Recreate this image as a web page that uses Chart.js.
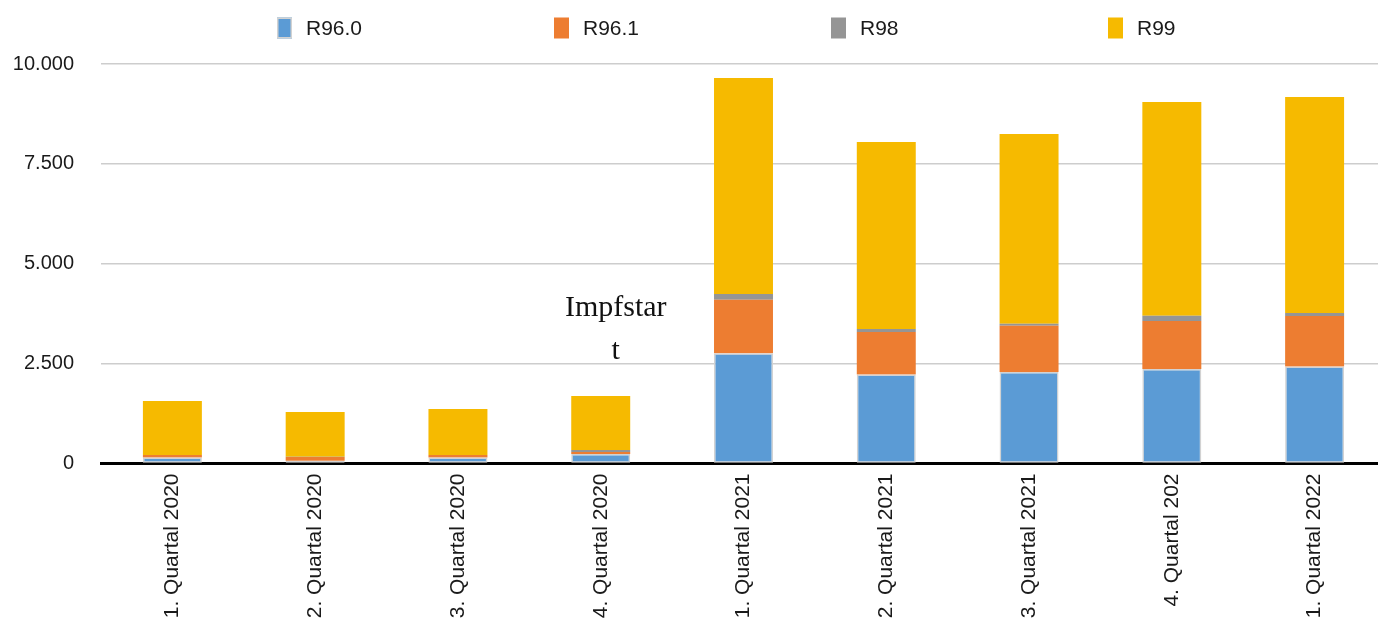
<!DOCTYPE html>
<html>
<head>
<meta charset="utf-8">
<script src="https://cdn.jsdelivr.net/npm/chart.js@4/dist/chart.umd.min.js"></script>
<style>
  html, body { margin: 0; padding: 0; background: #fff; overflow: hidden; }
  #wrap { position: relative; width: 1390px; height: 622px; }
</style>
</head>
<body>
<div id="wrap"><canvas id="c"></canvas></div>
<script>
// Quarterly counts per diagnosis code
const quarters = [
  '1. Quartal 2020', '2. Quartal 2020', '3. Quartal 2020', '4. Quartal 2020',
  '1. Quartal 2021', '2. Quartal 2021', '3. Quartal 2021', '4. Quartal 202',
  '1. Quartal 2022'
];
const seriesNames = ['R96.0', 'R96.1', 'R98', 'R99'];
const r960 = [150, 70, 150, 235, 2760, 2230, 2290, 2365, 2425];
const r961 = [60, 90, 60, 55, 1340, 1060, 1160, 1200, 1270];
const r98  = [5, 10, 5, 45, 140, 75, 50, 135, 75];
const r99  = [1350, 1120, 1150, 1355, 5410, 4680, 4750, 5350, 5405];
const yTicks = [0, 2500, 5000, 7500, 10000];
const noteLines = ['Impfstar', 't'];
const noteValue = 3700;     // y value of the note's first baseline
const noteCategory = 3;     // index of the quarter the note sits over

const colors = ['#5B9BD5', '#ED7D31', '#959595', '#F6BA00'];
const FONT = '"Liberation Sans", Arial, sans-serif';

function fmt(v) {
  return String(v).replace(/\B(?=(\d{3})+(?!\d))/g, '.');
}

// Evenly spaced legend row above the plot
const legendRow = {
  id: 'legendRow',
  afterDraw(chart) {
    const ctx = chart.ctx;
    ctx.save();
    ctx.font = '21px ' + FONT;
    ctx.textBaseline = 'middle';
    ctx.textAlign = 'left';
    const startX = 277, step = 277, cy = 28;
    chart.data.datasets.forEach((ds, i) => {
      const x = startX + i * step;
      ctx.fillStyle = ds.backgroundColor;
      ctx.fillRect(x, cy - 10.5, 15, 21);
      if (ds.borderWidth) {
        ctx.strokeStyle = ds.borderColor;
        ctx.lineWidth = 1.5;
        ctx.strokeRect(x + 0.75, cy - 9.75, 13.5, 19.5);
      }
      ctx.fillStyle = '#1a1a1a';
      ctx.fillText(ds.label, x + 29, cy + 1);
    });
    ctx.restore();
  }
};

// Serif note placed over a quarter
const note = {
  id: 'note',
  afterDraw(chart) {
    const ctx = chart.ctx;
    const xs = chart.scales.x, ys = chart.scales.y;
    const cx = xs.getPixelForValue(noteCategory) + 15;
    let y = ys.getPixelForValue(noteValue);
    ctx.save();
    ctx.font = '30px "Liberation Serif", "Times New Roman", serif';
    ctx.fillStyle = '#111';
    ctx.textAlign = 'center';
    ctx.textBaseline = 'alphabetic';
    noteLines.forEach(line => { ctx.fillText(line, cx, y); y += 43; });
    ctx.restore();
  }
};

const seriesData = [r960, r961, r98, r99];
new Chart(document.getElementById('c'), {
  type: 'bar',
  data: {
    labels: quarters,
    datasets: seriesNames.map((name, i) => ({
      label: name,
      data: seriesData[i],
      backgroundColor: colors[i],
      borderColor: i === 0 ? '#d2d2d2' : colors[i],
      borderWidth: i === 0 ? 1.5 : 0,
      borderSkipped: false,
      categoryPercentage: 1,
      barPercentage: 0.413
    }))
  },
  options: {
    responsive: true,
    maintainAspectRatio: false,
    animation: false,
    layout: { padding: { top: 64, right: 4, left: 0, bottom: 0 } },
    plugins: {
      legend: { display: false },
      title: { display: false },
      tooltip: { enabled: false }
    },
    scales: {
      x: {
        stacked: true,
        grid: { display: false, drawTicks: false },
        border: { display: true, color: '#000', width: 3 },
        ticks: {
          autoSkip: false,
          minRotation: 90,
          maxRotation: 90,
          padding: 10,
          color: '#1a1a1a',
          font: { family: FONT, size: 21 }
        },
        afterFit(scale) { scale.height = 158.5; }
      },
      y: {
        stacked: true,
        min: 0,
        max: 10000,
        afterBuildTicks(scale) { scale.ticks = yTicks.map(v => ({ value: v })); },
        grid: { color: '#cdcdcd', lineWidth: 1.5, drawTicks: false },
        border: { display: false },
        ticks: {
          padding: 27,
          color: '#1a1a1a',
          font: { family: FONT, size: 20 },
          callback: v => fmt(v)
        },
        afterFit(scale) { scale.width = 101; }
      }
    }
  },
  plugins: [legendRow, note]
});
</script>
</body>
</html>
